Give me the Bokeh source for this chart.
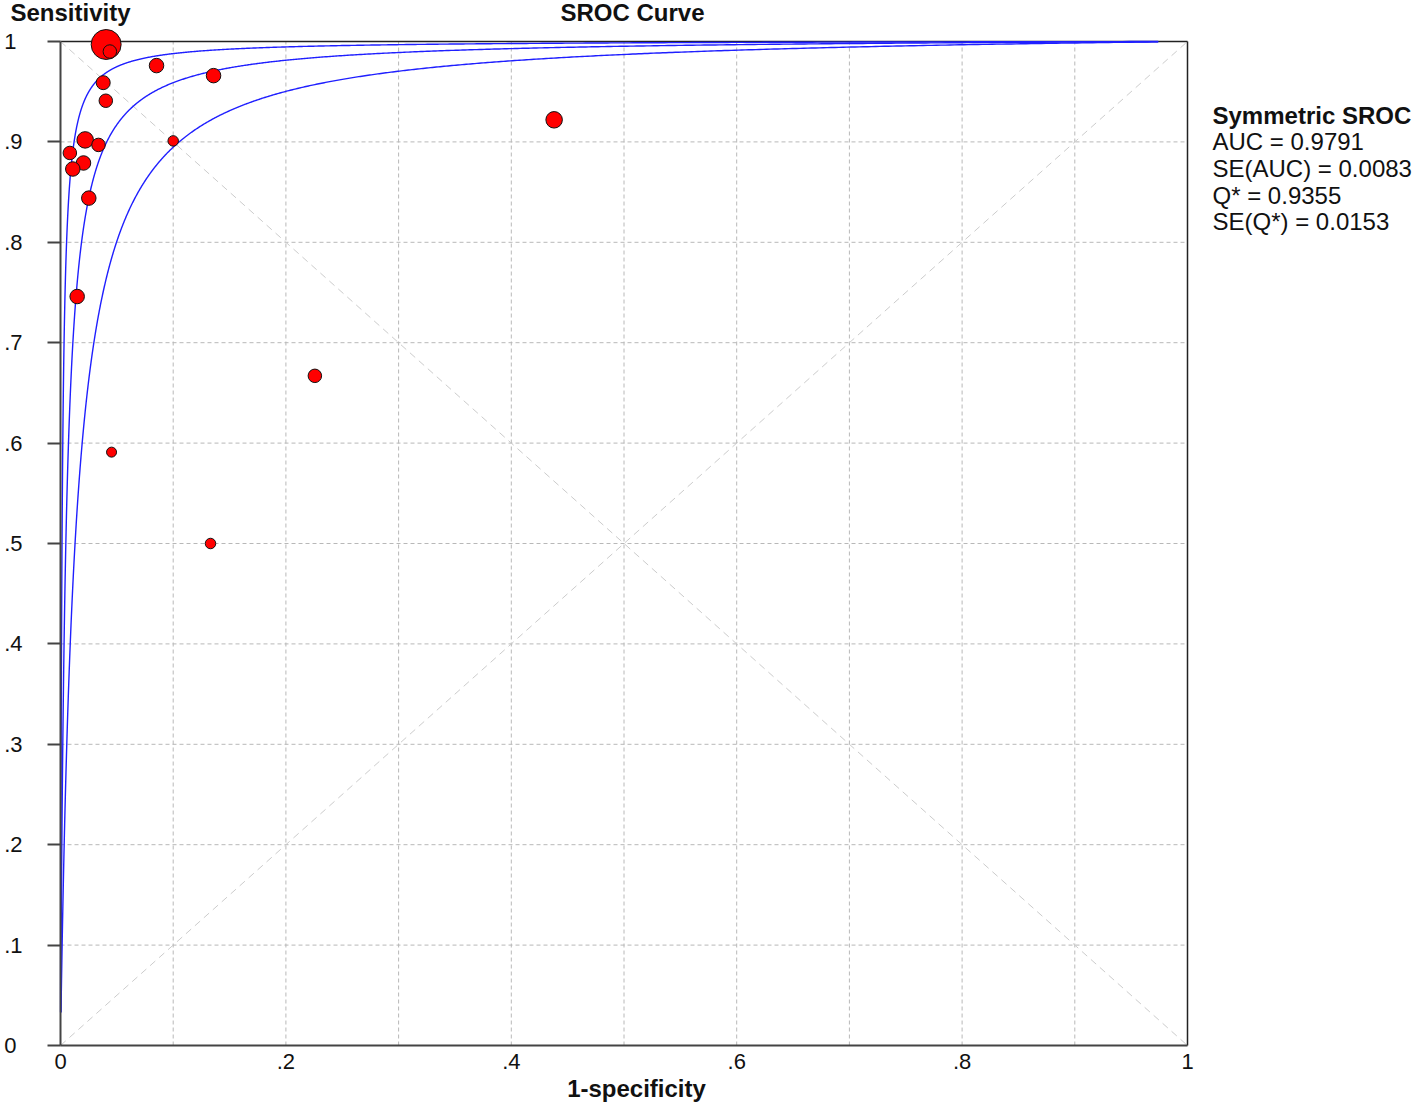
import numpy as np
from bokeh.plotting import figure
from bokeh.models import Range1d, FixedTicker, Label, ColumnDataSource
from bokeh.embed import file_html
from bokeh.resources import INLINE

# ---- data ----
fpr = [0.0405, 0.0438, 0.0852, 0.1358, 0.0379, 0.0402, 0.4380, 0.0219, 0.0337,
       0.1000, 0.0083, 0.0204, 0.0109, 0.0251, 0.0148, 0.2257, 0.0453, 0.1331]
sens = [0.997, 0.990, 0.976, 0.966, 0.959, 0.941, 0.922, 0.902, 0.897,
        0.901, 0.889, 0.879, 0.873, 0.844, 0.746, 0.667, 0.591, 0.500]
study_weight = [30, 13.5, 14.5, 14.5, 14, 13.5, 16.5, 16.5, 13.5,
                10.5, 13.5, 14.5, 14.5, 14.5, 14.5, 13.5, 10, 10.5]

# SROC curves: Q* and its estimated confidence curves
q_curves = [0.9645, 0.9355, 0.8974]
curve_fpr_end = 0.974
curve_sens_start = 0.033

y_ticks = [0, 0.1, 0.2, 0.3, 0.4, 0.5, 0.6, 0.7, 0.8, 0.9, 1.0]
y_tick_labels = ["0\u00a0", ".1", ".2", ".3", ".4", ".5", ".6", ".7", ".8", ".9", "1\u00a0"]
x_ticks = [0, 0.2, 0.4, 0.6, 0.8, 1.0]
x_tick_labels = ["0", ".2", ".4", ".6", ".8", "1"]
grid_ticks = [0.1, 0.2, 0.3, 0.4, 0.5, 0.6, 0.7, 0.8, 0.9]

title_text = "SROC Curve"
y_title = "Sensitivity"
x_title = "1-specificity"
stats_title = "Symmetric SROC"
stats_lines = ["AUC = 0.9791", "SE(AUC) = 0.0083", "Q* = 0.9355", "SE(Q*) = 0.0153"]

FONT = "Liberation Sans"
INK = "#111111"

# layout geometry (pixels): unit square spans x 60..1187, y 1045..41
W, H = 1418, 1106
X0_PX, Y0_PX = 60, 1045
PX_X, PX_Y = 1127, 1004


def dx(px):
    return (px - X0_PX) / PX_X


def dy(py):
    return (Y0_PX - py) / PX_Y


p = figure(frame_width=W, frame_height=H, output_backend="svg",
           toolbar_location=None,
           x_range=Range1d(dx(0), dx(W)), y_range=Range1d(dy(H), dy(0)),
           min_border=0)
p.background_fill_color = "white"
p.border_fill_color = "white"
p.outline_line_color = None
p.xgrid.grid_line_color = None
p.ygrid.grid_line_color = None

# grid lines (inside unit square only)
p.segment(x0=grid_ticks, y0=[0] * len(grid_ticks), x1=grid_ticks, y1=[1] * len(grid_ticks),
          line_color="#b8b8b8", line_dash="4 3", line_width=1)
p.segment(x0=[0] * len(grid_ticks), y0=grid_ticks, x1=[1] * len(grid_ticks), y1=grid_ticks,
          line_color="#b8b8b8", line_dash="4 3", line_width=1)

# axes, fixed at the unit square's edges
p.xaxis.fixed_location = 0
p.xaxis.bounds = (0, 1)
p.xaxis.ticker = FixedTicker(ticks=x_ticks)
p.xaxis.major_label_overrides = {t: l for t, l in zip(x_ticks, x_tick_labels)}
p.xaxis.major_tick_out = 0
p.xaxis.major_tick_in = 0
p.xaxis.minor_tick_out = 0
p.xaxis.minor_tick_in = 0
p.xaxis.major_label_text_font = FONT
p.xaxis.major_label_text_font_size = "22px"
p.xaxis.major_label_text_color = INK
p.xaxis.major_label_standoff = 8

p.yaxis.fixed_location = 0
p.yaxis.bounds = (0, 1)
p.yaxis.ticker = FixedTicker(ticks=y_ticks)
p.yaxis.major_label_overrides = {t: l for t, l in zip(y_ticks, y_tick_labels)}
p.yaxis.major_label_text_font = FONT
p.yaxis.major_label_text_font_size = "22px"
p.yaxis.major_label_text_color = INK
p.yaxis.major_label_standoff = 25
p.yaxis.major_tick_out = 13
p.yaxis.major_tick_in = 0
p.yaxis.minor_tick_out = 0
p.yaxis.minor_tick_in = 0

for ax in (p.xaxis, p.yaxis):
    ax.axis_line_color = "#444444"
    ax.axis_line_width = 2
    ax.major_tick_line_color = "#444444"
    ax.major_tick_line_width = 2

# plot border (top and right)
p.segment(x0=[0, 1], y0=[1, 0], x1=[1, 1], y1=[1, 1], line_color="#222222", line_width=1.5)

# diagonals
p.line([0, 1], [0, 1], line_color="#cccccc", line_dash="7 5", line_width=1)
p.line([0, 1], [1, 0], line_color="#cccccc", line_dash="7 5", line_width=1)

# SROC curves
def logit(v):
    return np.log(v / (1 - v))

for q in q_curves:
    a = 2 * logit(q)
    f_start = 1 / (1 + np.exp(-(logit(curve_sens_start) - a)))
    fx = np.geomspace(f_start, curve_fpr_end, 1500)
    sy = 1 / (1 + np.exp(-(a + logit(fx))))
    p.line(fx, sy, line_color="#1f1fff", line_width=1.4)

# studies
src = ColumnDataSource(dict(x=fpr, y=sens, w=study_weight))
p.scatter("x", "y", size="w", source=src, fill_color="#ff0000",
          line_color="#111111", line_width=1)


def add_text(px, py, text, bold=False, align="left"):
    p.add_layout(Label(x=dx(px), y=dy(py), text=text, text_font=FONT,
                       text_font_size="24px",
                       text_font_style="bold" if bold else "normal",
                       text_align=align, text_baseline="middle", text_color=INK))


# titles
add_text(10, 12, y_title, bold=True)
add_text(632, 12.3, title_text, bold=True, align="center")
add_text(636, 1088, x_title, bold=True, align="center")

# stats block
add_text(1212, 114.7, stats_title, bold=True)
for py, s in zip([141.3, 168.0, 194.7, 221.3], stats_lines):
    add_text(1212, py, s)

open("out.html", "w").write(file_html(p, INLINE))
